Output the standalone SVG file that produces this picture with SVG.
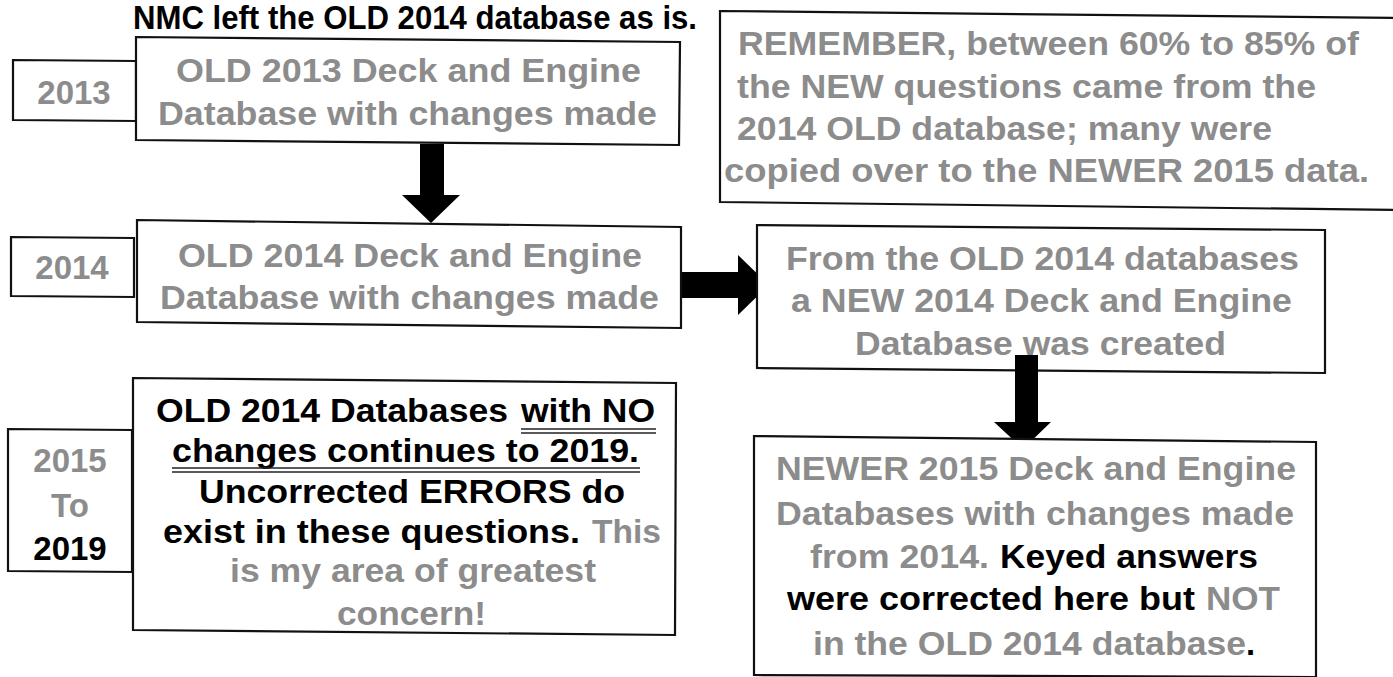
<svg xmlns="http://www.w3.org/2000/svg" width="1393" height="677" viewBox="0 0 1393 677">
<style>
.box{fill:#fff;stroke:#111;stroke-width:2.2}
text{font-family:"Liberation Sans",Arial,sans-serif;font-weight:bold;font-size:33px}
.g{fill:#8c8c8c}
.k{fill:#000}
.u{stroke:#222;stroke-width:1.6}
.arrow{fill:#000}
</style>
<rect width="1393" height="677" fill="#fff"/>
<g id="title">
<text class="k" x="133" y="29" font-size="28" textLength="564" lengthAdjust="spacingAndGlyphs">NMC left the OLD 2014 database as is.</text>
</g>
<g id="connectors">
<polygon class="arrow" points="420,144 444,144 444,195 460,195 431,223 402,195 420,195"/>
<polygon class="arrow" points="681,272 738,272 738,255 769,285 738,315 738,298 681,298"/>
<polygon class="arrow" points="1015,355 1038,355 1038,422 1051,422 1023,449 994,422 1015,422"/>
</g>
<g id="label2013">
<polygon class="box" points="13,60 136,61 136,121 13,120"/>
<text class="g" x="74" y="104" text-anchor="middle" font-size="35">2013</text>
</g>
<g id="old2013">
<polygon class="box" points="136,37 680,42 679,145 136,140"/>
<text class="g" x="176" y="82" textLength="465" lengthAdjust="spacingAndGlyphs">OLD 2013 Deck and Engine</text>
<text class="g" x="158" y="125" textLength="499" lengthAdjust="spacingAndGlyphs">Database with changes made</text>
</g>
<g id="label2014">
<polygon class="box" points="11,237 134,238 134,297 11,296"/>
<text class="g" x="72" y="279" text-anchor="middle" font-size="35">2014</text>
</g>
<g id="old2014">
<polygon class="box" points="137,220 681,227 681,328 137,322"/>
<text class="g" x="178" y="267" textLength="464" lengthAdjust="spacingAndGlyphs">OLD 2014 Deck and Engine</text>
<text class="g" x="160" y="309" textLength="499" lengthAdjust="spacingAndGlyphs">Database with changes made</text>
</g>
<g id="remember">
<polygon class="box" points="720,11 1400,18 1400,210 720,202"/>
<text class="g" x="738" y="55" textLength="621" lengthAdjust="spacingAndGlyphs">REMEMBER, between 60% to 85% of</text>
<text class="g" x="737" y="98" textLength="579" lengthAdjust="spacingAndGlyphs">the NEW questions came from the</text>
<text class="g" x="737" y="140" textLength="535" lengthAdjust="spacingAndGlyphs">2014 OLD database; many were</text>
<text class="g" x="724" y="182" textLength="645" lengthAdjust="spacingAndGlyphs">copied over to the NEWER 2015 data.</text>
</g>
<g id="new2014">
<polygon class="box" points="757,225 1325,230 1325,373 757,368"/>
<text class="g" x="786" y="270" textLength="513" lengthAdjust="spacingAndGlyphs">From the OLD 2014 databases</text>
<text class="g" x="791" y="312" textLength="501" lengthAdjust="spacingAndGlyphs">a NEW 2014 Deck and Engine</text>
<text class="g" x="855" y="355" textLength="371" lengthAdjust="spacingAndGlyphs">Database was created</text>
<polygon class="arrow" points="1015,355 1038,355 1038,375 1015,375"/>
</g>
<g id="label2015">
<polygon class="box" points="8,429 132,430 132,572 8,571"/>
<text class="g" x="70" y="472" text-anchor="middle" font-size="35">2015</text>
<text class="g" x="70" y="517" text-anchor="middle" font-size="35">To</text>
<text class="k" x="70" y="560" text-anchor="middle" font-size="35">2019</text>
</g>
<g id="old2014nochange">
<polygon class="box" points="133,378 676,383 675,635 133,630"/>
<text class="k" x="156" y="422" textLength="352" lengthAdjust="spacingAndGlyphs">OLD 2014 Databases</text>
<text class="k" x="521" y="422" textLength="134" lengthAdjust="spacingAndGlyphs">with NO</text>
<line class="u" x1="521" y1="429" x2="656" y2="429"/>
<line class="u" x1="521" y1="433" x2="656" y2="433"/>
<text class="k" x="172" y="462" textLength="467" lengthAdjust="spacingAndGlyphs">changes continues to 2019.</text>
<line class="u" x1="172" y1="468" x2="640" y2="468"/>
<line class="u" x1="172" y1="472" x2="640" y2="472"/>
<text class="k" x="199" y="503" textLength="426" lengthAdjust="spacingAndGlyphs">Uncorrected ERRORS do</text>
<text class="k" x="163" y="543" textLength="417" lengthAdjust="spacingAndGlyphs">exist in these questions.</text>
<text class="g" x="592" y="543" textLength="69" lengthAdjust="spacingAndGlyphs">This</text>
<text class="g" x="230" y="582" textLength="366" lengthAdjust="spacingAndGlyphs">is my area of greatest</text>
<text class="g" x="337" y="625" textLength="149" lengthAdjust="spacingAndGlyphs">concern!</text>
</g>
<g id="newer2015">
<polygon class="box" points="754,436 1316,442 1316,677 754,675"/>
<text class="g" x="776" y="480" textLength="520" lengthAdjust="spacingAndGlyphs">NEWER 2015 Deck and Engine</text>
<text class="g" x="776" y="525" textLength="518" lengthAdjust="spacingAndGlyphs">Databases with changes made</text>
<text class="g" x="810" y="568" textLength="179" lengthAdjust="spacingAndGlyphs">from 2014.</text>
<text class="k" x="1000" y="568" textLength="258" lengthAdjust="spacingAndGlyphs">Keyed answers</text>
<text class="k" x="787" y="610" textLength="408" lengthAdjust="spacingAndGlyphs">were corrected here but</text>
<text class="g" x="1206" y="610" textLength="74" lengthAdjust="spacingAndGlyphs">NOT</text>
<text class="g" x="813" y="655" textLength="433" lengthAdjust="spacingAndGlyphs">in the OLD 2014 database</text>
<text class="k" x="1246" y="655">.</text>
</g>
</svg>
